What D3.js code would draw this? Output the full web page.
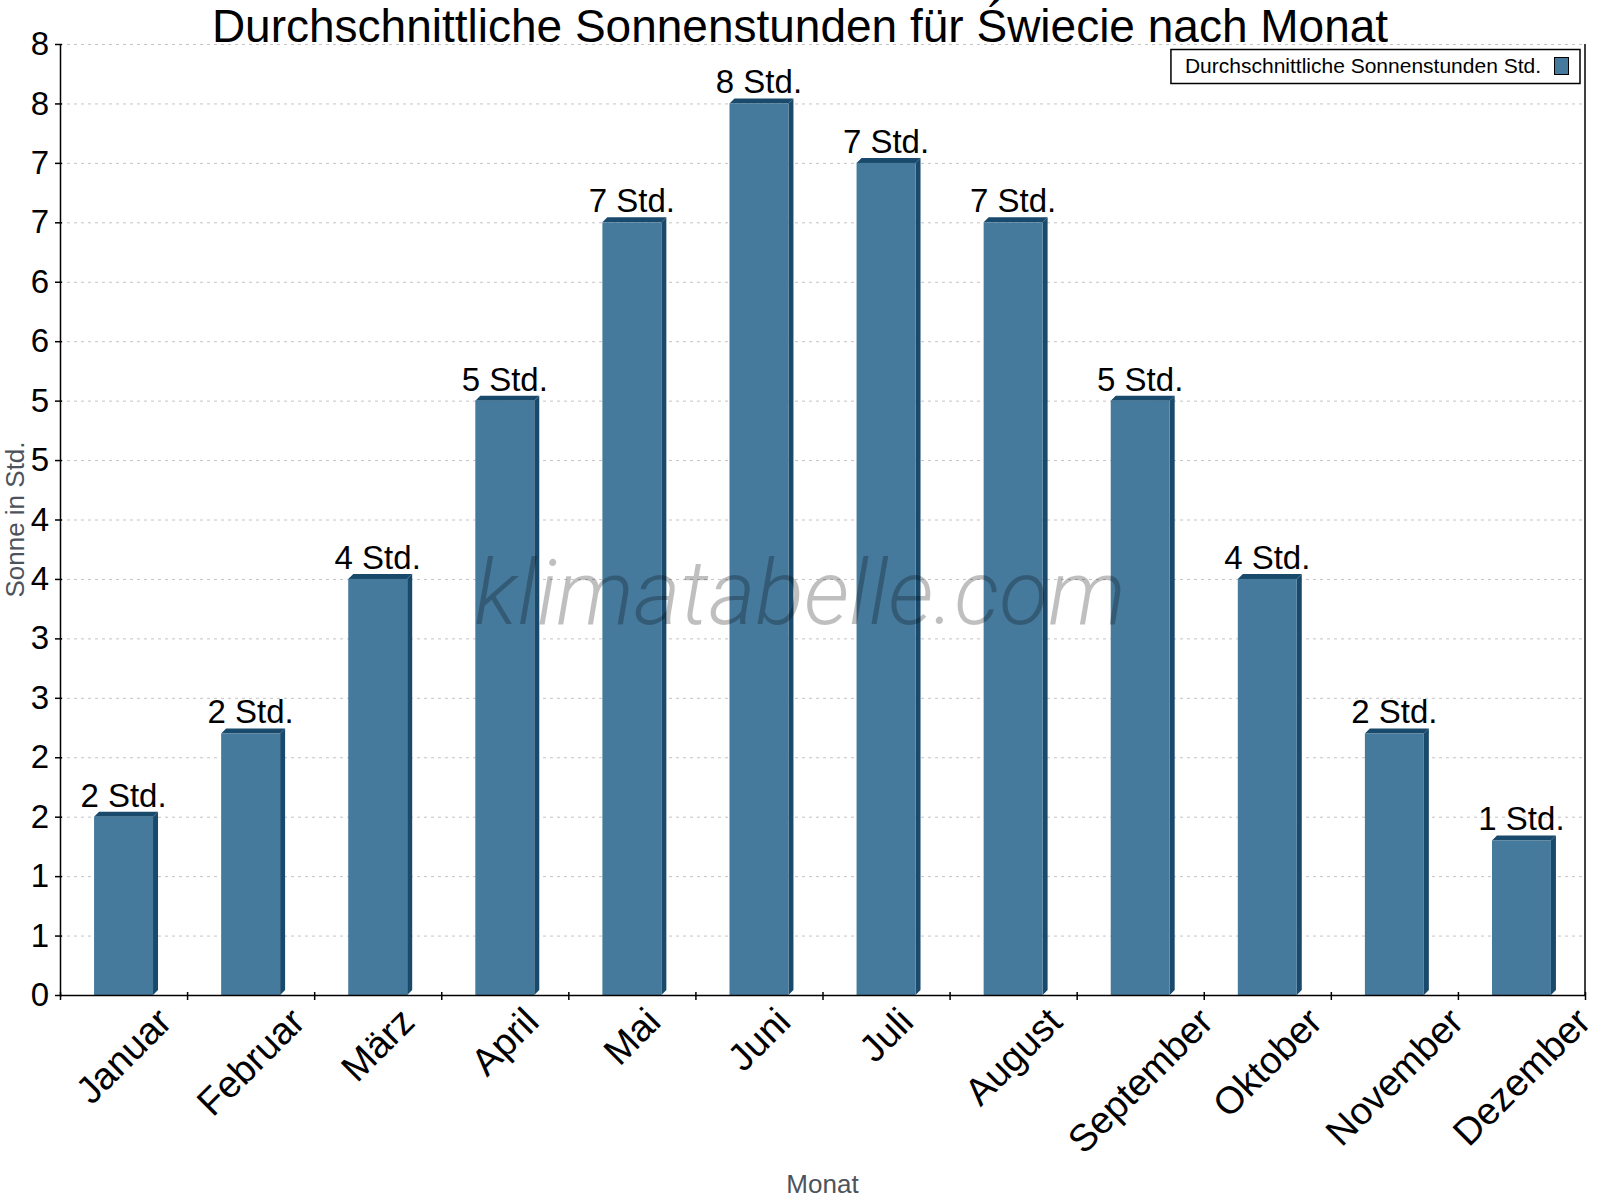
<!DOCTYPE html>
<html>
<head>
<meta charset="utf-8">
<script src="https://cdn.jsdelivr.net/npm/d3@7"></script>
<style>
    body { margin: 0; background: #fff; }
    svg { font-family: 'Liberation Sans', Arial, sans-serif; }
</style>
</head>
<body>
<svg width="1600" height="1200"></svg>
<script>
// Chart data
var months = ['Januar', 'Februar', 'März', 'April', 'Mai', 'Juni',
    'Juli', 'August', 'September', 'Oktober', 'November', 'Dezember'];
var sunHours = [1.5, 2.2, 3.5, 5.0, 6.5, 7.5, 7.0, 6.5, 5.0, 3.5, 2.2, 1.3];
var yTicks = [0, 0.5, 1, 1.5, 2, 2.5, 3, 3.5, 4, 4.5, 5, 5.5, 6, 6.5, 7, 7.5, 8];

var titleText = 'Durchschnittliche Sonnenstunden für Świecie nach Monat';
var legendText = 'Durchschnittliche Sonnenstunden Std.';

var svg = d3.select('svg');

var svgWidth = +svg.attr('width');
var svgHeight = +svg.attr('height');

// plot area edges
var plot = {l: 60, r: 1585, t: 44, b: 995};
var depth = 5;   // 3d offset of the bars
var frontColor = '#467a9c';
var sideColor = '#194a6b';
var axisTitleColor = '#4d535b';

var x = d3.scaleBand()
    .domain(months)
    .range([plot.l, plot.r])
    .paddingInner(0.536)
    .paddingOuter(0.268);

var y = d3.scaleLinear()
    .domain([0, 8])
    .range([plot.b, plot.t]);

// index scale for the tick marks between months
var xIdx = d3.scaleLinear()
    .domain([0, months.length])
    .range([plot.l, plot.r]);

// horizontal dotted grid
svg.append('g')
    .attr('class', 'grid')
    .selectAll('line')
    .data(yTicks.filter(d => d > 0))
    .enter().append('line')
    .attr('x1', plot.l)
    .attr('x2', plot.r)
    .attr('y1', d => y(d) + 0.5)
    .attr('y2', d => y(d) + 0.5)
    .style('stroke', '#c4c4c4')
    .style('stroke-width', 1)
    .style('stroke-dasharray', '3,4');

// bars: side face, top face, front face
var bw = x.bandwidth();
var barG = svg.append('g').attr('class', 'bars');

var bars = barG.selectAll('.bar')
    .data(months.map((m, i) => ({month: m, value: sunHours[i]})))
    .enter().append('g')
    .attr('class', 'bar');

bars.append('path')
    .attr('d', function(d) {
        var x0 = x(d.month), x1 = x0 + bw, top = y(d.value), base = y(0);
        return 'M' + [x1, top] + 'L' + [x1 + depth, top - depth] +
            'L' + [x1 + depth, base - depth] + 'L' + [x1, base] + 'Z';
    })
    .style('fill', sideColor);

bars.append('path')
    .attr('d', function(d) {
        var x0 = x(d.month), x1 = x0 + bw, top = y(d.value);
        return 'M' + [x0, top] + 'L' + [x0 + depth, top - depth] +
            'L' + [x1 + depth, top - depth] + 'L' + [x1, top] + 'Z';
    })
    .style('fill', sideColor);

bars.append('rect')
    .attr('x', d => x(d.month))
    .attr('y', d => y(d.value))
    .attr('width', bw)
    .attr('height', d => y(0) - y(d.value))
    .style('fill', frontColor);

// value labels
bars.append('text')
    .attr('x', d => x(d.month) + bw / 2)
    .attr('y', d => y(d.value) - 10)
    .attr('text-anchor', 'middle')
    .style('font-size', '33px')
    .style('fill', '#000')
    .text(d => Math.round(d.value) + ' Std.');

// watermark, drawn over the bars
svg.append('text')
    .attr('x', svgWidth / 2)
    .attr('y', 624)
    .attr('text-anchor', 'middle')
    .style('font-family', 'Roboto, sans-serif')
    .style('font-style', 'italic')
    .style('font-weight', 300)
    .style('font-size', '90px')
    .style('fill', '#000')
    .style('fill-opacity', 0.25)
    .text('klimatabelle.com');

// y axis
var yAxis = d3.axisLeft(y)
    .tickValues(yTicks)
    .tickFormat(d => Math.round(d))
    .tickSizeInner(5)
    .tickSizeOuter(0)
    .tickPadding(6);

var yAxisG = svg.append('g')
    .attr('class', 'y-axis')
    .attr('transform', 'translate(' + plot.l + ',0)')
    .call(yAxis);

yAxisG.selectAll('text')
    .style('font-size', '33px')
    .style('font-family', 'Liberation Sans, Arial, sans-serif')
    .style('fill', '#000');
yAxisG.selectAll('line, path').style('stroke', '#000').style('stroke-width', 1.5);
yAxisG.selectAll('.tick line').attr('x2', -5).attr('x1', 2);

// x axis with ticks between months
var xAxis = d3.axisBottom(xIdx)
    .tickValues(d3.range(months.length + 1))
    .tickFormat('')
    .tickSizeInner(5)
    .tickSizeOuter(0);

var xAxisG = svg.append('g')
    .attr('class', 'x-axis')
    .attr('transform', 'translate(0,' + plot.b + ')')
    .call(xAxis);

xAxisG.selectAll('line, path').style('stroke', '#000').style('stroke-width', 1.5);
xAxisG.selectAll('.tick line').attr('y1', -3);

// right border
svg.append('line')
    .attr('x1', plot.r).attr('x2', plot.r)
    .attr('y1', plot.t).attr('y2', plot.b)
    .style('stroke', '#000')
    .style('stroke-width', 1.5);

// rotated month labels, box centred on the band, top edge on one line
var labelTop = 1004;
var labelSize = 38;
svg.append('g')
    .attr('class', 'x-labels')
    .selectAll('text')
    .data(months)
    .enter().append('text')
    .attr('text-anchor', 'middle')
    .attr('dominant-baseline', 'central')
    .style('font-size', labelSize + 'px')
    .style('fill', '#000')
    .text(d => d)
    .attr('transform', function(d) {
        var w = this.getComputedTextLength();
        var h = (w + labelSize * 0.8) * Math.SQRT1_2;
        return 'translate(' + [x(d) + bw / 2, labelTop + h / 2] + ') rotate(-45)';
    });

// axis titles
svg.append('text')
    .attr('x', (plot.l + plot.r) / 2)
    .attr('y', 1193)
    .attr('text-anchor', 'middle')
    .style('font-size', '26px')
    .style('fill', axisTitleColor)
    .text('Monat');

svg.append('text')
    .attr('transform', 'translate(24,' + (plot.t + plot.b) / 2 + ') rotate(-90)')
    .attr('text-anchor', 'middle')
    .style('font-size', '26px')
    .style('fill', axisTitleColor)
    .text('Sonne in Std.');

// title
svg.append('text')
    .attr('x', svgWidth / 2)
    .attr('y', 42)
    .attr('text-anchor', 'middle')
    .style('font-size', '46px')
    .style('fill', '#000')
    .text(titleText);

// legend
var legendG = svg.append('g').attr('class', 'legend');
var legendBox = legendG.append('rect')
    .attr('y', 49.5)
    .attr('height', 34)
    .style('fill', '#fff')
    .style('stroke', '#000')
    .style('stroke-width', 1.5);

var legendLabel = legendG.append('text')
    .attr('x', 1541)
    .attr('y', 73)
    .attr('text-anchor', 'end')
    .style('font-size', '21px')
    .style('fill', '#000')
    .text(legendText);

legendG.append('rect')
    .attr('x', 1554.5)
    .attr('y', 57.5)
    .attr('width', 14)
    .attr('height', 17)
    .style('fill', frontColor)
    .style('stroke', '#000')
    .style('stroke-width', 1);

var legendTextW = legendLabel.node().getComputedTextLength();
legendBox
    .attr('x', 1541 - legendTextW - 14)
    .attr('width', 1580 - (1541 - legendTextW - 14));
</script>
</body>
</html>
